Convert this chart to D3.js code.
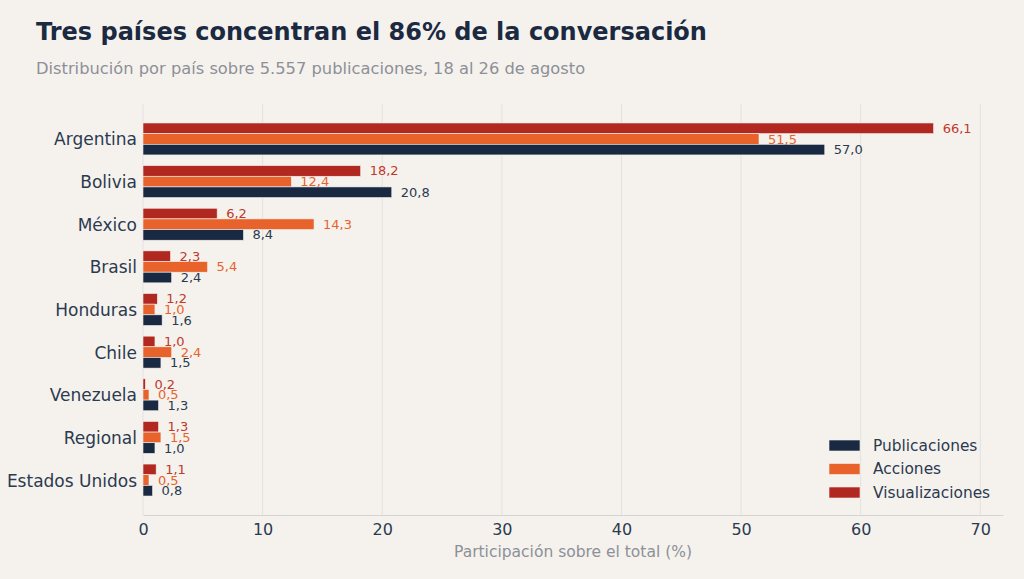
<!DOCTYPE html>
<html>
<head>
<meta charset="utf-8">
<script src="https://cdn.jsdelivr.net/npm/d3@7"></script>
<style>
  html, body { margin: 0; padding: 0; background: #f5f2ee; }
  svg { display: block; font-family: "DejaVu Sans", sans-serif; }
</style>
</head>
<body>
<script>
// datos: participación por país (%)
var paises = ["Argentina", "Bolivia", "México", "Brasil", "Honduras", "Chile", "Venezuela", "Regional", "Estados Unidos"];
var series = ["Visualizaciones", "Acciones", "Publicaciones"];
var publicaciones = [57.0, 20.8, 8.4, 2.4, 1.6, 1.5, 1.3, 1.0, 0.8];
var acciones = [51.5, 12.4, 14.3, 5.4, 1.0, 2.4, 0.5, 1.5, 0.5];
var visualizaciones = [66.1, 18.2, 6.2, 2.3, 1.2, 1.0, 0.2, 1.3, 1.1];
var xTicks = [0, 10, 20, 30, 40, 50, 60, 70];
var legendOrder = ["Publicaciones", "Acciones", "Visualizaciones"];

var valores = { "Publicaciones": publicaciones, "Acciones": acciones, "Visualizaciones": visualizaciones };
var colores = { "Publicaciones": "#1a2942", "Acciones": "#e8622b", "Visualizaciones": "#b0281f" };
var colorTexto = { "Publicaciones": "#2b3a4f", "Acciones": "#e8622b", "Visualizaciones": "#c0392b" };

var width = 1024, height = 579;
var svg = d3.select("body").append("svg").attr("width", width).attr("height", height);
svg.append("rect").attr("width", width).attr("height", height).attr("fill", "#f5f2ee");

var mLeft = 143, mRight = 1003, mTop = 104, mBottom = 515;

var x = d3.scaleLinear().domain([0, 71.9]).range([mLeft, mRight]);
var y = d3.scaleBand().domain(paises).range([mTop, mBottom]).paddingInner(0.25).paddingOuter(0.445);
var ySub = d3.scaleBand().domain(series).range([0, y.bandwidth()]);

// rejilla
svg.append("g").selectAll("line").data(xTicks).enter().append("line")
    .attr("x1", function(d) { return x(d); }).attr("x2", function(d) { return x(d); })
    .attr("y1", mTop).attr("y2", mBottom)
    .attr("stroke", "#e4e1dd").attr("stroke-width", 1);

// eje x
var xAxis = svg.append("g").attr("transform", "translate(0," + mBottom + ")")
    .call(d3.axisBottom(x).tickValues(xTicks).tickSize(0).tickPadding(9));
xAxis.select(".domain").attr("stroke", "#d3d3d3").attr("stroke-width", 1.2);
xAxis.selectAll("text").attr("font-size", 16).attr("fill", "#2b3a4f").attr("font-family", "DejaVu Sans");

// eje y (solo etiquetas)
var yAxis = svg.append("g").attr("transform", "translate(" + mLeft + ",0)")
    .call(d3.axisLeft(y).tickSize(0).tickPadding(6));
yAxis.select(".domain").remove();
yAxis.selectAll("text").attr("font-size", 17).attr("dy", "0.38em")
    .attr("fill", "#2b3a4f").attr("font-family", "DejaVu Sans");

// barras
var grupos = svg.append("g").selectAll("g").data(paises).enter().append("g")
    .attr("transform", function(d) { return "translate(0," + y(d) + ")"; });

series.forEach(function(s) {
  grupos.append("rect")
    .attr("x", x(0))
    .attr("y", ySub(s))
    .attr("width", function(d, i) { return x(valores[s][i]) - x(0); })
    .attr("height", ySub.bandwidth())
    .attr("fill", colores[s])
    .attr("stroke", "#f5f2ee").attr("stroke-width", 0.6);
});

series.forEach(function(s) {
  grupos.append("text")
    .attr("x", function(d, i) { return x(valores[s][i]) + 9; })
    .attr("y", ySub(s) + ySub.bandwidth() / 2)
    .attr("dy", "0.35em")
    .attr("font-size", 13)
    .attr("fill", colorTexto[s])
    .text(function(d, i) { return valores[s][i].toFixed(1).replace(".", ","); });
});

// títulos
svg.append("text").attr("x", 36).attr("y", 40)
    .attr("font-size", 24).attr("font-weight", "bold").attr("fill", "#1b2a41")
    .text("Tres países concentran el 86% de la conversación");
svg.append("text").attr("x", 36).attr("y", 74)
    .attr("font-size", 16.3).attr("fill", "#8d9097")
    .text("Distribución por país sobre 5.557 publicaciones, 18 al 26 de agosto");
svg.append("text").attr("x", (mLeft + mRight) / 2).attr("y", 557)
    .attr("text-anchor", "middle").attr("font-size", 15.5).attr("fill", "#8d9097")
    .text("Participación sobre el total (%)");

// leyenda
var leg = svg.append("g").selectAll("g").data(legendOrder).enter().append("g")
    .attr("transform", function(d, i) { return "translate(829," + (440 + i * 23.5) + ")"; });
leg.append("rect").attr("width", 31).attr("height", 11)
    .attr("fill", function(d) { return colores[d]; })
    .attr("stroke", "#f5f2ee").attr("stroke-width", 0.6);
leg.append("text").attr("x", 44).attr("y", 5.5).attr("dy", "0.35em")
    .attr("font-size", 15.4).attr("fill", "#2b3a4f")
    .text(function(d) { return d; });
</script>
</body>
</html>
